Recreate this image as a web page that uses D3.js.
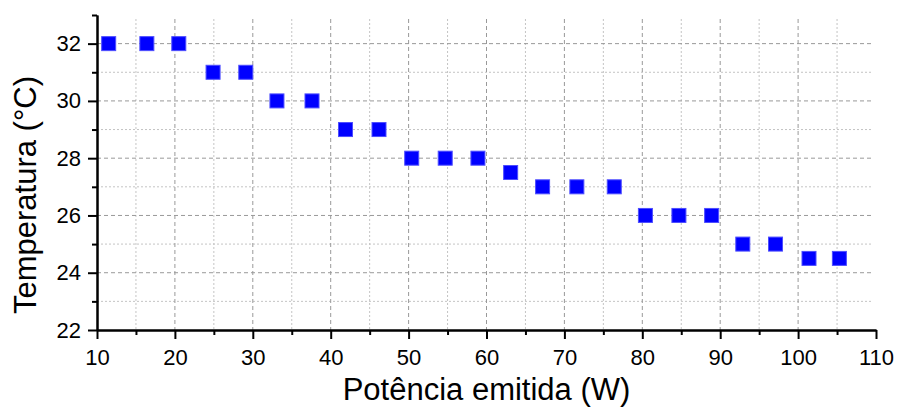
<!DOCTYPE html>
<html>
<head>
<meta charset="utf-8">
<script src="https://cdn.jsdelivr.net/npm/d3@7"></script>
<style>
  body { margin: 0; background: #fff; }
  svg text { font-family: "Liberation Sans", Arial, sans-serif; fill: #000; }
</style>
</head>
<body>
<script>
var width = 898,
    height = 407;

// data
var power = [11.5, 16.4, 20.5, 24.9, 29.1, 33.1, 37.6, 41.9, 46.2, 50.4, 54.7, 58.9,
             63.1, 67.2, 71.6, 76.4, 80.4, 84.7, 88.9, 92.9, 97.1, 101.4, 105.3];
var temp  = [32, 32, 32, 31, 31, 30, 30, 29, 29, 28, 28, 28,
             27.5, 27, 27, 27, 26, 26, 26, 25, 25, 24.5, 24.5];

var xMajor = [10, 20, 30, 40, 50, 60, 70, 80, 90, 100, 110];
var xMinor = [15, 25, 35, 45, 55, 65, 75, 85, 95, 105];
var yMajor = [22, 24, 26, 28, 30, 32];
var yMinor = [23, 25, 27, 29, 31, 33];

var xTitle = 'Potência emitida (W)',
    yTitle = 'Temperatura (°C)';

var x = d3.scaleLinear().domain([10, 110]).range([97, 876]);
var y = d3.scaleLinear().domain([22, 33]).range([330, 15]);

var svg = d3.select('body').append('svg')
    .attr('xmlns', 'http://www.w3.org/2000/svg')
    .attr('width', width)
    .attr('height', height);

// grid
var grid = svg.append('g').attr('class', 'grid');
grid.selectAll('line.vmin').data(xMinor).enter().append('line')
    .attr('x1', d => x(d)).attr('x2', d => x(d))
    .attr('y1', y(33) + 4).attr('y2', y(22))
    .attr('stroke', '#c4c4c4').attr('stroke-width', 1).attr('stroke-dasharray', '2,2');
grid.selectAll('line.hmin').data(yMinor.filter(d => d < 33)).enter().append('line')
    .attr('x1', x(10)).attr('x2', x(110) - 3)
    .attr('y1', d => y(d)).attr('y2', d => y(d))
    .attr('stroke', '#c4c4c4').attr('stroke-width', 1).attr('stroke-dasharray', '2,2');
grid.selectAll('line.vmaj').data(xMajor.filter(d => d > 10 && d < 110)).enter().append('line')
    .attr('x1', d => x(d)).attr('x2', d => x(d))
    .attr('y1', y(33) + 4).attr('y2', y(22))
    .attr('stroke', '#999').attr('stroke-width', 1).attr('stroke-dasharray', '4,3');
grid.selectAll('line.hmaj').data(yMajor.filter(d => d > 22)).enter().append('line')
    .attr('x1', x(10)).attr('x2', x(110) - 3)
    .attr('y1', d => y(d)).attr('y2', d => y(d))
    .attr('stroke', '#999').attr('stroke-width', 1).attr('stroke-dasharray', '4,3');

// axes
var xAxis = svg.append('g').attr('transform', 'translate(0,' + y(22) + ')')
    .call(d3.axisBottom(x).tickValues(xMajor).tickFormat(d3.format('d'))
          .tickSize(9).tickPadding(10).tickSizeOuter(0));
var xAxisMinor = svg.append('g').attr('transform', 'translate(0,' + y(22) + ')')
    .call(d3.axisBottom(x).tickValues(xMinor).tickFormat('').tickSize(5).tickSizeOuter(0));

var yAxis = svg.append('g').attr('transform', 'translate(' + x(10) + ',0)')
    .call(d3.axisLeft(y).tickValues(yMajor).tickFormat(d3.format('d'))
          .tickSize(9).tickPadding(7).tickSizeOuter(0));
var yAxisMinor = svg.append('g').attr('transform', 'translate(' + x(10) + ',0)')
    .call(d3.axisLeft(y).tickValues(yMinor).tickFormat('').tickSize(5).tickSizeOuter(0));

svg.selectAll('.domain').attr('stroke', '#000').attr('stroke-width', 2);
svg.selectAll('.tick line').attr('stroke', '#000').attr('stroke-width', 2);
svg.selectAll('.tick text')
    .style('font-family', '"Liberation Sans", Arial, sans-serif')
    .style('font-size', '22px').attr('fill', '#000');

// points
var side = 14;
svg.append('g').selectAll('rect').data(power).enter().append('rect')
    .attr('x', (d, i) => x(d) - side / 2)
    .attr('y', (d, i) => y(temp[i]) - side / 2)
    .attr('width', side).attr('height', side)
    .attr('fill', '#0000ff')
    .attr('stroke', '#4d4dff').attr('stroke-width', 1);

// titles
svg.append('text')
    .attr('x', (x(10) + x(110)) / 2).attr('y', 400)
    .attr('text-anchor', 'middle')
    .style('font-size', '31px')
    .text(xTitle);

svg.append('text')
    .attr('transform', 'translate(36,195) rotate(-90)')
    .attr('text-anchor', 'middle')
    .style('font-size', '31px')
    .text(yTitle);
</script>
</body>
</html>
